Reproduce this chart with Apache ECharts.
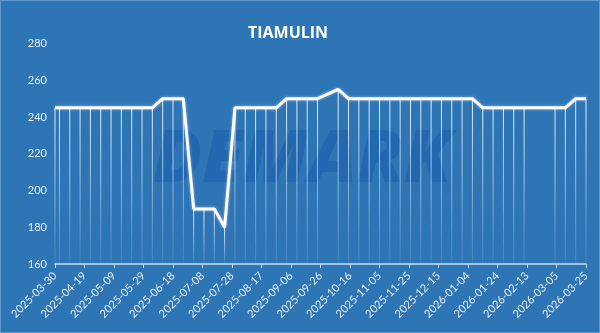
<!DOCTYPE html>
<html>
<head>
<meta charset="utf-8">
<script src="https://cdn.jsdelivr.net/npm/echarts@6/dist/echarts.min.js"></script>
<style>
html,body{margin:0;padding:0;background:#2e75b6;}
#c{width:600px;height:333px;box-sizing:border-box;border:1px solid #5f97cc;}
</style>
</head>
<body>
<div id="c"></div>
<script>
var axisStart = '2025-03-30';
var axisEnd = '2026-03-25';
var dates = ['2025-03-30','2025-04-02','2025-04-09','2025-04-16','2025-04-23','2025-04-30','2025-05-07','2025-05-14','2025-05-21','2025-05-28','2025-06-04','2025-06-11','2025-06-18','2025-06-25','2025-07-02','2025-07-09','2025-07-16','2025-07-23','2025-07-30','2025-08-06','2025-08-13','2025-08-20','2025-08-27','2025-09-03','2025-09-10','2025-09-17','2025-09-24','2025-10-08','2025-10-15','2025-10-22','2025-10-29','2025-11-05','2025-11-12','2025-11-19','2025-11-26','2025-12-03','2025-12-10','2025-12-17','2025-12-24','2025-12-31','2026-01-07','2026-01-14','2026-01-21','2026-01-28','2026-02-04','2026-02-11','2026-03-04','2026-03-11','2026-03-18','2026-03-25'];
var prices = [245,245,245,245,245,245,245,245,245,245,245,250,250,250,190,190,190,180,245,245,245,245,245,250,250,250,250,255,250,250,250,250,250,250,250,250,250,250,250,250,250,245,245,245,245,245,245,245,250,250];
var yTicks = [160,180,200,220,240,260,280];

// daily categories for the date axis
function pad(n){return n<10?'0'+n:''+n;}
var days = [];
(function(){
  var d = new Date(axisStart+'T00:00:00Z'), e = new Date(axisEnd+'T00:00:00Z');
  while (d <= e) {
    days.push(d.getUTCFullYear()+'-'+pad(d.getUTCMonth()+1)+'-'+pad(d.getUTCDate()));
    d = new Date(d.getTime()+86400000);
  }
})();
var pairs = dates.map(function(d,i){return [d, prices[i]];});

var chart = echarts.init(document.getElementById('c'), null, {renderer:'canvas'});
chart.setOption({
  backgroundColor:'#2e75b6',
  animation:false,
  title:{text:'TIAMULIN', left:242, top:19,
    textStyle:{color:'#ffffff', fontFamily:'Open Sans', fontWeight:'bold', fontSize:16}},
  graphic:[{type:'text', left:152, top:124, z:-1, silent:true,
    style:{text:'DEMARK', font:'italic 900 72px "Open Sans"', fill:'rgba(22,92,172,0.5)'}}],
  grid:{left:54, right:13, top:42.5, bottom:68},
  xAxis:{type:'category', data:days, boundaryGap:false,
    axisLine:{lineStyle:{color:'#c9ddf1', width:1.5}},
    axisTick:{interval:19, length:4, lineStyle:{color:'#c9ddf1'}},
    axisLabel:{interval:19, rotate:45, color:'#e8f1fa', fontFamily:'Lato', fontSize:11, margin:10},
    splitLine:{show:false}},
  yAxis:{type:'value', min:yTicks[0], max:yTicks[yTicks.length-1], interval:20,
    axisLine:{show:false}, axisTick:{show:false}, splitLine:{show:false},
    axisLabel:{color:'#e8f1fa', fontFamily:'Lato', fontSize:11, margin:8}},
  series:[
    {type:'bar', data:pairs, barWidth:1, barGap:'-100%', z:1,
      itemStyle:{color:new echarts.graphic.LinearGradient(0,0,0,1,[
        {offset:0,color:'rgba(255,255,255,0.9)'},
        {offset:1,color:'rgba(255,255,255,0.08)'}])}},
    {type:'line', data:pairs, symbol:'none', connectNulls:true, z:3,
      lineStyle:{color:'#ffffff', width:3, shadowColor:'rgba(255,255,255,0.5)', shadowBlur:3}}
  ]
});
</script>
</body>
</html>
